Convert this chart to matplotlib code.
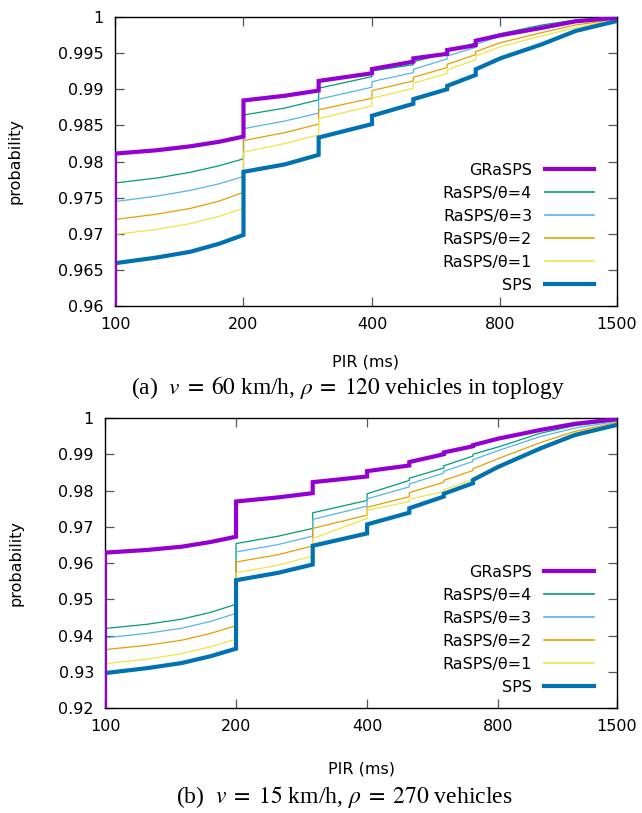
import matplotlib
matplotlib.use("Agg")
import matplotlib.pyplot as plt

plt.rcParams['font.family'] = ['DejaVu Sans']
plt.rcParams['mathtext.fontset'] = 'stix'

# ---------------- data ----------------
pir = [100, 100, 125, 150, 175, 200, 200, 250, 300, 300, 400, 400, 500, 500,
       600, 600, 700, 700, 800, 1000, 1200, 1500]

labels = ["GRaSPS", "RaSPS/θ=4", "RaSPS/θ=3", "RaSPS/θ=2", "RaSPS/θ=1", "SPS"]
colors = ["#9400d3", "#009e73", "#56b4e9", "#e69f00", "#f0e442", "#0072b2"]
widths = [3.0, 0.9, 0.9, 0.9, 0.9, 3.0]
leg_widths = [3.0, 1.2, 1.2, 1.2, 1.2, 3.0]

# (a) v = 60 km/h, rho = 120
a_grasps = [0.95, 0.9811, 0.98155, 0.9821, 0.98272, 0.98345, 0.98845, 0.9891, 0.98982, 0.99115,
            0.99221, 0.9928, 0.99382, 0.99428, 0.9949, 0.99543, 0.9961, 0.99672, 0.99747,
            0.9985, 0.9994, 0.9999]
a_th4 = [0.95, 0.97703, 0.97770, 0.9785, 0.97940, 0.98037, 0.98643, 0.9874, 0.98853, 0.99014,
         0.99175, 0.99253, 0.9934, 0.9938, 0.9950, 0.9953, 0.9964, 0.9967, 0.9977,
         0.99889, 0.99959, 0.9999]
a_th3 = [0.95, 0.97445, 0.9752, 0.9760, 0.9769, 0.97792, 0.98454, 0.9856, 0.98670, 0.98862,
         0.99028, 0.99106, 0.9923, 0.99276, 0.9942, 0.9946, 0.9958, 0.9962, 0.99737,
         0.99853, 0.99936, 0.9998]
a_th2 = [0.95, 0.97198, 0.9727, 0.9735, 0.9745, 0.97574, 0.9829, 0.9840, 0.98518, 0.98716,
         0.98876, 0.98982, 0.99115, 0.99166, 0.9930, 0.99345, 0.9948, 0.9952, 0.99645,
         0.99784, 0.99890, 0.99968]
a_th1 = [0.95, 0.96991, 0.9706, 0.9714, 0.9724, 0.97352, 0.98129, 0.9825, 0.98368, 0.98592,
         0.98771, 0.98876, 0.99014, 0.99083, 0.9922, 0.99267, 0.9941, 0.9946, 0.9959,
         0.99738, 0.99853, 0.99968]
a_sps = [0.95, 0.96592, 0.9667, 0.9675, 0.9686, 0.96983, 0.97857, 0.9796, 0.98092, 0.98332,
         0.98518, 0.98633, 0.98799, 0.98863, 0.9900, 0.99046, 0.99198, 0.99276, 0.99428,
         0.99622, 0.99807, 0.99945]

# (b) v = 15 km/h, rho = 270
b_grasps = [0.90, 0.96286, 0.9636, 0.9645, 0.9658, 0.96725, 0.97697, 0.9781, 0.97927, 0.9823,
            0.98387, 0.98535, 0.9869, 0.98785, 0.9900, 0.9905, 0.9922, 0.9925, 0.9943,
            0.9967, 0.9984, 0.9997]
b_th4 = [0.90, 0.94194, 0.9431, 0.9445, 0.9464, 0.94862, 0.96537, 0.9674, 0.96954, 0.97385,
         0.97725, 0.9791, 0.98277, 0.9834, 0.9862, 0.9868, 0.9895, 0.9900, 0.9920,
         0.9958, 0.9979, 0.9993]
b_th3 = [0.90, 0.93935, 0.9406, 0.9420, 0.9439, 0.9461, 0.96305, 0.9651, 0.9674, 0.97202,
         0.9757, 0.9777, 0.9810, 0.9818, 0.9848, 0.9853, 0.9880, 0.9885, 0.9910,
         0.9949, 0.9972, 0.9991]
b_th2 = [0.90, 0.93611, 0.9373, 0.9387, 0.9406, 0.9427, 0.96028, 0.9623, 0.9647, 0.96954,
         0.9732, 0.97535, 0.9783, 0.9794, 0.9823, 0.9828, 0.9855, 0.9860, 0.9888,
         0.9932, 0.9963, 0.9988]
b_th1 = [0.90, 0.93222, 0.9335, 0.9350, 0.9369, 0.9390, 0.95731, 0.9594, 0.9619, 0.96676,
         0.9723, 0.9746, 0.9769, 0.9776, 0.9797, 0.9802, 0.9830, 0.9835, 0.9869,
         0.9920, 0.9958, 0.9986]
b_sps = [0.90, 0.92963, 0.9310, 0.9324, 0.9343, 0.93637, 0.95525, 0.9573, 0.95958, 0.96475,
         0.96816, 0.97065, 0.97388, 0.9751, 0.97833, 0.9791, 0.9820, 0.9829, 0.9865,
         0.9916, 0.9953, 0.9981]

xticks = [100, 200, 400, 800, 1500]
xticklabels = ["100", "200", "400", "800", "1500"]
a_yticks = [0.96, 0.965, 0.97, 0.975, 0.98, 0.985, 0.99, 0.995, 1.0]
a_yticklabels = ["0.96", "0.965", "0.97", "0.975", "0.98", "0.985", "0.99", "0.995", "1"]
b_yticks = [0.92, 0.93, 0.94, 0.95, 0.96, 0.97, 0.98, 0.99, 1.0]
b_yticklabels = ["0.92", "0.93", "0.94", "0.95", "0.96", "0.97", "0.98", "0.99", "1"]

caption_a = r"(a)  $v\;=\;60$ km/h, $\rho\;=\;120$ vehicles in toplogy"
caption_b = r"(b)  $v\;=\;15$ km/h, $\rho\;=\;270$ vehicles"

# ---------------- figure ----------------
W, H = 642, 813
fig = plt.figure(figsize=(W / 100, H / 100), dpi=100)
FS = 11.5


def make_panel(rect, series, ylim, yticks, yticklabels, leg_anchor, xlabelpad):
    ax = fig.add_axes(rect)
    order = [1, 2, 3, 4, 5, 0]
    for i in order:
        ax.plot(pir, series[i], color=colors[i], lw=widths[i], solid_joinstyle='miter',
                zorder=3 if widths[i] > 2 else 2)
    ax.set_xscale('log')
    ax.set_xlim(100, 1500)
    ax.set_ylim(*ylim)
    ax.set_xticks(xticks)
    ax.set_xticklabels(xticklabels)
    ax.xaxis.set_minor_locator(matplotlib.ticker.NullLocator())
    ax.set_yticks(yticks)
    ax.set_yticklabels(yticklabels)
    ax.tick_params(direction='in', length=6.5, width=0.9, color='#555555',
                   top=True, right=True, labelsize=FS, pad=8)
    for s in ax.spines.values():
        s.set_linewidth(1.0)
        s.set_color('black')
    ax.set_xlabel("PIR (ms)", fontsize=FS, labelpad=xlabelpad)
    ax.set_ylabel("probability", fontsize=FS)
    handles = [matplotlib.lines.Line2D([], [], color=colors[i], lw=leg_widths[i])
               for i in range(6)]
    ax.legend(handles, labels, loc='lower right', bbox_to_anchor=leg_anchor,
              frameon=False, markerfirst=False, fontsize=FS,
              handlelength=3.1, handletextpad=0.8, labelspacing=0.5,
              borderpad=0, borderaxespad=0)
    return ax


axa = make_panel([115 / W, 1 - 306 / H, 502 / W, 289 / H],
                 [a_grasps, a_th4, a_th3, a_th2, a_th1, a_sps],
                 (0.96, 1.0), a_yticks, a_yticklabels, (0.955, 0.045), 16)
axb = make_panel([105 / W, 1 - 708 / H, 512 / W, 290 / H],
                 [b_grasps, b_th4, b_th3, b_th2, b_th1, b_sps],
                 (0.92, 1.0), b_yticks, b_yticklabels, (0.955, 0.045), 20)
axa.yaxis.set_label_coords(-0.185, 0.5)
axb.yaxis.set_label_coords(-0.16, 0.5)

fig.text(348 / W, 1 - 387 / H, caption_a, ha='center', va='center',
         fontsize=16.8, family=['Liberation Serif', 'DejaVu Serif'])
fig.text(344 / W, 1 - 797 / H, caption_b, ha='center', va='center',
         fontsize=17, family=['Liberation Serif', 'DejaVu Serif'])

fig.savefig("out.png", dpi=100)
